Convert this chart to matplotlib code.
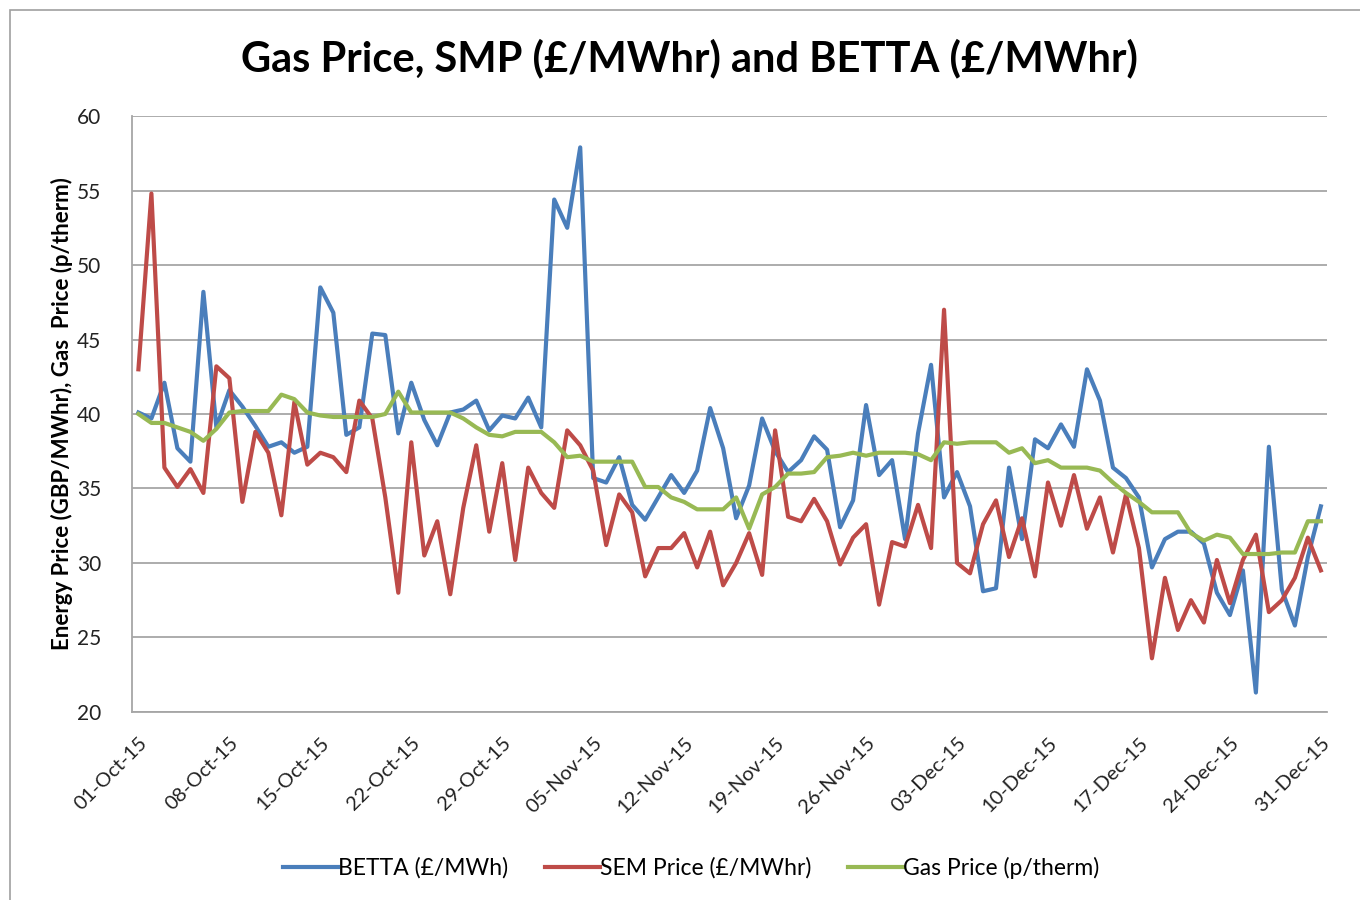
import numpy as np
import pandas as pd
import matplotlib
matplotlib.use("Agg")
import matplotlib.pyplot as plt
from matplotlib.patches import Rectangle

plt.rcParams['font.family'] = ['Lato', 'DejaVu Sans']

# daily data, 01-Oct-15 .. 31-Dec-15 (92 days)
dates = pd.date_range("2015-10-01", "2015-12-31", freq="D")

betta = [40.1, 39.7, 42.1, 37.7, 36.8, 48.2, 39.1, 41.6, 40.5, 39.2,
         37.8, 38.1, 37.4, 37.8, 48.5, 46.8, 38.6, 39.1, 45.4, 45.3,
         38.7, 42.1, 39.6, 37.9, 40.1, 40.3, 40.9, 38.9, 39.9, 39.7,
         41.1, 39.1, 54.4, 52.5, 57.9, 35.7, 35.4, 37.1, 33.9, 32.9,
         34.4, 35.9, 34.7, 36.2, 40.4, 37.7, 33.0, 35.2, 39.7, 37.5,
         36.1, 36.9, 38.5, 37.6, 32.4, 34.2, 40.6, 35.9, 36.9, 31.6,
         38.7, 43.3, 34.4, 36.1, 33.8, 28.1, 28.3, 36.4, 31.6, 38.3,
         37.7, 39.3, 37.8, 43.0, 40.9, 36.4, 35.7, 34.4, 29.7, 31.6,
         32.1, 32.1, 31.3, 28.0, 26.5, 29.5, 21.3, 37.8, 28.2, 25.8,
         30.4, 33.8]

sem = [43.0, 54.8, 36.4, 35.1, 36.3, 34.7, 43.2, 42.4, 34.1, 38.8,
       37.4, 33.2, 40.8, 36.6, 37.4, 37.1, 36.1, 40.9, 39.7, 34.4,
       28.0, 38.1, 30.5, 32.8, 27.9, 33.7, 37.9, 32.1, 36.7, 30.2,
       36.4, 34.7, 33.7, 38.9, 37.9, 36.2, 31.2, 34.6, 33.4, 29.1,
       31.0, 31.0, 32.0, 29.7, 32.1, 28.5, 30.0, 32.0, 29.2, 38.9,
       33.1, 32.8, 34.3, 32.8, 29.9, 31.7, 32.6, 27.2, 31.4, 31.1,
       33.9, 31.0, 47.0, 30.0, 29.3, 32.6, 34.2, 30.4, 33.0, 29.1,
       35.4, 32.5, 35.9, 32.3, 34.4, 30.7, 34.6, 31.0, 23.6, 29.0,
       25.5, 27.5, 26.0, 30.2, 27.3, 30.2, 31.9, 26.7, 27.5, 29.0,
       31.7, 29.5]

gas = [40.0, 39.4, 39.4, 39.1, 38.8, 38.2, 39.0, 40.1, 40.2, 40.2,
       40.2, 41.3, 41.0, 40.1, 39.9, 39.8, 39.8, 39.8, 39.8, 40.0,
       41.5, 40.1, 40.1, 40.1, 40.1, 39.7, 39.1, 38.6, 38.5, 38.8,
       38.8, 38.8, 38.1, 37.1, 37.2, 36.8, 36.8, 36.8, 36.8, 35.1,
       35.1, 34.4, 34.1, 33.6, 33.6, 33.6, 34.4, 32.3, 34.6, 35.1,
       36.0, 36.0, 36.1, 37.1, 37.2, 37.4, 37.2, 37.4, 37.4, 37.4,
       37.3, 36.9, 38.1, 38.0, 38.1, 38.1, 38.1, 37.4, 37.7, 36.7,
       36.9, 36.4, 36.4, 36.4, 36.2, 35.4, 34.7, 34.1, 33.4, 33.4,
       33.4, 32.0, 31.5, 31.9, 31.7, 30.6, 30.6, 30.6, 30.7, 30.7,
       32.8, 32.8]

labels = ["BETTA (£/MWh)", "SEM Price (£/MWhr)", "Gas Price (p/therm)"]
colors = ["#4A7EBB", "#BE4B48", "#98B954"]

x = np.arange(len(dates))

fig = plt.figure(figsize=(13.6, 9), dpi=100)
ax = fig.add_axes([0.097, 0.209, 0.879, 0.662])

for series, lab, col in zip([betta, sem, gas], labels, colors):
    ax.plot(x, series, color=col, lw=3.0, label=lab, solid_joinstyle='round')

ax.set_xlim(-0.5, len(x) - 0.5)
ax.set_ylim(20, 60)
ax.set_yticks(np.arange(20, 61, 5))
ax.yaxis.grid(True, color="#A6A6A6", lw=1.3)
ax.set_axisbelow(True)
for s in ["top", "right"]:
    ax.spines[s].set_visible(False)
for s in ["left", "bottom"]:
    ax.spines[s].set_color("#A6A6A6")
    ax.spines[s].set_linewidth(1.3)

tick_idx = x[::7]
ax.set_xticks(tick_idx)
ax.set_xticklabels([d.strftime("%d-%b-%y") for d in dates[::7]],
                   rotation=45, ha="right", va="top", rotation_mode="anchor",
                   fontsize=14.5)
ax.tick_params(axis="both", length=0, colors="#222222")
ax.tick_params(axis="x", pad=16)
ax.tick_params(axis="y", pad=22, labelsize=15)

ax.set_ylabel("Energy Price (GBP/MWhr), Gas  Price (p/therm)",
              fontsize=16, fontweight="bold", labelpad=3)

fig.text(0.507, 0.935, "Gas Price, SMP (£/MWhr) and BETTA (£/MWhr)",
         ha="center", va="center", fontsize=30, fontweight="bold")

fig.legend(loc="center", bbox_to_anchor=(0.508, 0.036), ncol=3, frameon=False,
           fontsize=16.5, handlelength=2.4, handletextpad=0.0, columnspacing=1.6)

# chart area border
fig.patches.append(Rectangle((10 / 1360, -0.05), 1.2, (890 / 900) + 0.05,
                             transform=fig.transFigure, fill=False,
                             edgecolor="#A0A0A0", lw=1.2))

fig.savefig("out.png", dpi=100, facecolor="white")
